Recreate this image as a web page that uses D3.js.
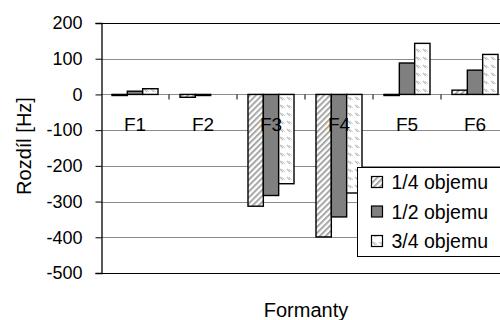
<!DOCTYPE html>
<html><head><meta charset="utf-8">
<script src="https://cdn.jsdelivr.net/npm/d3@7"></script>
<style>
html,body{margin:0;padding:0;background:#fff;}
svg{display:block;font-family:"Liberation Sans",Arial,sans-serif;}
</style></head>
<body>
<svg id="chart" width="500" height="320"></svg>
<script>
const categories = ["F1","F2","F3","F4","F5","F6"];
const seriesNames = ["1/4 objemu","1/2 objemu","3/4 objemu"];
const quarter = [-3, -8, -313, -399, -3, 12];
const half = [9, -3, -283, -343, 88, 68];
const threeQuarter = [16, 0, -250, -276, 143, 112];
const yTicks = [200, 100, 0, -100, -200, -300, -400, -500];
const yTitle = "Rozdíl [Hz]";
const xTitle = "Formanty";

(function(){
const seriesValues = [quarter, half, threeQuarter];
const svg = d3.select("#chart");
const defs = svg.append("defs");

// pattern 1: diagonal stripes "/"
const p1 = defs.append("pattern").attr("id","pQuarter").attr("patternUnits","userSpaceOnUse")
  .attr("width",4.2).attr("height",4.2).attr("patternTransform","rotate(45)");
p1.append("rect").attr("width",4.2).attr("height",4.2).attr("fill","#fff");
p1.append("rect").attr("width",2).attr("height",4.2).attr("fill","#a6a6a6");

// pattern 3: small dashes "\"
const p3 = defs.append("pattern").attr("id","pThree").attr("patternUnits","userSpaceOnUse")
  .attr("width",7).attr("height",8);
p3.append("rect").attr("width",7).attr("height",8).attr("fill","#fff");
p3.append("line").attr("x1",1).attr("y1",1).attr("x2",4).attr("y2",4).attr("stroke","#b8b8b8").attr("stroke-width",1.1);
p3.append("line").attr("x1",3).attr("y1",1).attr("x2",6).attr("y2",4).attr("stroke","#c8c8c8").attr("stroke-width",0.9);

const fills = ["url(#pQuarter)","#808080","url(#pThree)"];

const mLeft = 101, mTop = 23, mBottom = 273, mRight = 509;
const y = d3.scaleLinear().domain([-500, 200]).range([mBottom, mTop]);
const x0 = d3.scaleBand().domain(categories).range([mLeft, mRight]).padding(0);
const x1 = d3.scaleBand().domain(seriesNames).range([0, x0.bandwidth()]).paddingInner(0).paddingOuter(0.717);

// gridlines
svg.append("g").selectAll("line").data(yTicks).join("line")
  .attr("x1", mLeft).attr("x2", 500)
  .attr("y1", d => Math.round(y(d))+0.5).attr("y2", d => Math.round(y(d))+0.5)
  .attr("stroke", d => (d === 200 || d === -500) ? "#000" : "#8c8c8c")
  .attr("stroke-width", 1);

// y axis
const yAxis = d3.axisLeft(y).tickValues(yTicks).tickSize(6).tickPadding(13).tickFormat(d => String(d));
const gy = svg.append("g").attr("transform", `translate(${mLeft+0.5},0)`).call(yAxis);
gy.select(".domain").attr("stroke","#000").attr("stroke-width",1.3);
gy.selectAll(".tick line").attr("stroke","#000");
gy.selectAll(".tick text").attr("font-size",18).attr("fill","#000").attr("font-family","Liberation Sans, Arial, sans-serif");

// x category ticks at zero line
const z = Math.round(y(0))+0.5;
svg.append("g").selectAll("line").data(categories.slice(1)).join("line")
  .attr("x1", d => x0(d)).attr("x2", d => x0(d))
  .attr("y1", z).attr("y2", z+5).attr("stroke","#000").attr("stroke-width",1);

// bars
const groups = svg.append("g").selectAll("g").data(categories).join("g")
  .attr("transform", d => `translate(${x0(d)},0)`);
groups.selectAll("rect").data((c,i) => seriesNames.map((s,j) => ({s, j, v: seriesValues[j][i]})))
  .join("rect")
  .attr("x", d => x1(d.s))
  .attr("width", x1.bandwidth())
  .attr("y", d => y(Math.max(0, d.v)))
  .attr("height", d => Math.abs(y(d.v) - y(0)))
  .attr("fill", d => fills[d.j])
  .attr("stroke", d => d.v === 0 ? "none" : "#000")
  .attr("stroke-width", 1.4);

// category labels
svg.append("g").selectAll("text").data(categories).join("text")
  .attr("x", d => x0(d) + x0.bandwidth()/2)
  .attr("y", y(0) + 37)
  .attr("text-anchor","middle").attr("font-size",19).attr("fill","#000")
  .text(d => d);

// legend
const lg = svg.append("g").attr("transform","translate(357.5,167.5)");
lg.append("rect").attr("width",160).attr("height",89).attr("fill","#fff").attr("stroke","#000").attr("stroke-width",1);
seriesNames.forEach((s,i) => {
  const row = lg.append("g").attr("transform",`translate(14,${14.5 + i*29.5})`);
  row.append("rect").attr("x",0).attr("y",-5.5).attr("width",11).attr("height",11)
    .attr("fill",fills[i]).attr("stroke","#000").attr("stroke-width",1.2);
  row.append("text").attr("x",20).attr("y",7).attr("font-size",19.5).attr("fill","#000").text(s);
});

// axis titles
svg.append("text").attr("transform","translate(31,146) rotate(-90)")
  .attr("text-anchor","middle").attr("font-size",20).attr("fill","#000").text(yTitle);
svg.append("text").attr("x",306).attr("y",317)
  .attr("text-anchor","middle").attr("font-size",20).attr("fill","#000").text(xTitle);
})();
</script>
</body></html>
